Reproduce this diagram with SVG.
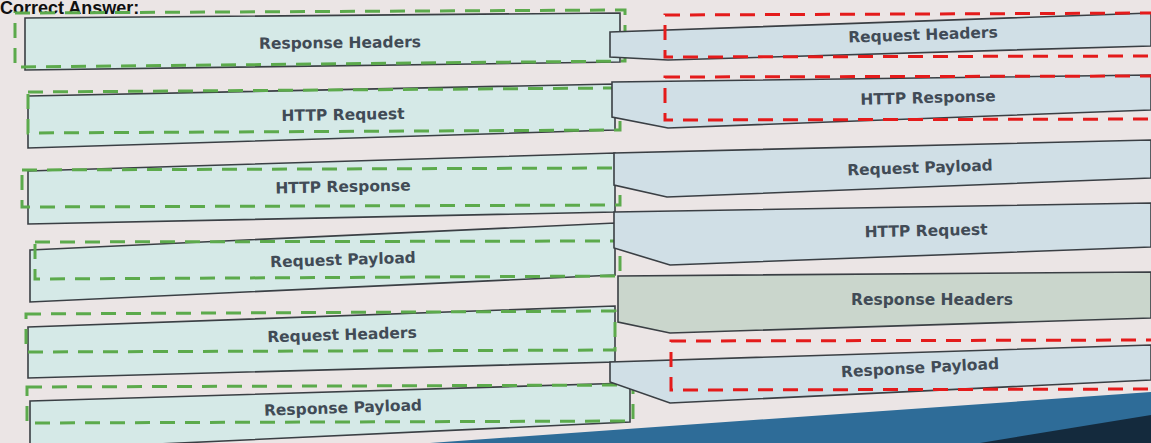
<svg xmlns="http://www.w3.org/2000/svg" width="1151" height="443" viewBox="0 0 1151 443">
<style>
.box{fill:#d5e9e7;stroke:#3a3f44;stroke-width:1.6}
.rbox{fill:#d0dfe6;stroke:#3a3f44;stroke-width:1.6}
.gd{fill:none;stroke:#5caa4c;stroke-width:3;stroke-dasharray:15 10}
.rd{fill:none;stroke:#e41b1b;stroke-width:3;stroke-dasharray:15 10}
.lbl{font-family:"DejaVu Sans",sans-serif;font-size:15.5px;font-weight:bold;fill:#414b56;text-anchor:middle}
.title{font-family:"Liberation Sans",Arial,sans-serif;font-size:18px;font-weight:bold;fill:#111}
</style>
<rect width="1151" height="443" fill="#ebe5e5"/>
<text class="title" x="0" y="14">Correct Answer:</text>
<g id="connectors"></g>
<g id="left-1">
<polygon class="box" points="25,18 620,13 620,62 25,70"/>
<polygon class="gd" points="15,13 625,10 625,61 15,67"/>
<text class="lbl" x="340" y="48" transform="rotate(-0.6 340 43)">Response Headers</text>
</g>
<g id="left-2">
<polygon class="box" points="28,96 615,84 615,130 28,148"/>
<polygon class="gd" points="28,92 620,88 620,130 28,133"/>
<text class="lbl" x="343" y="120" transform="rotate(-1 343 115)">HTTP Request</text>
</g>
<g id="left-3">
<polygon class="box" points="28,171 615,153 615,212 28,224"/>
<polygon class="gd" points="22,170 620,168 620,205 22,207"/>
<text class="lbl" x="343" y="192" transform="rotate(-1.2 343 187)">HTTP Response</text>
</g>
<g id="left-4">
<polygon class="box" points="30,250 615,223 615,275 30,302"/>
<polygon class="gd" points="35,242 620,241 620,276 35,279"/>
<text class="lbl" x="343" y="265" transform="rotate(-1.8 343 260)">Request Payload</text>
</g>
<g id="left-5">
<polygon class="box" points="28,327 615,306 615,362 28,378"/>
<polygon class="gd" points="26,314 615,311 615,350 26,352"/>
<text class="lbl" x="342" y="340" transform="rotate(-1.8 342 335)">Request Headers</text>
</g>
<g id="left-6">
<polygon class="box" points="30,401 630,383 630,422 30,450"/>
<polygon class="gd" points="27,387 633,385 633,421 27,423"/>
<text class="lbl" x="343" y="413" transform="rotate(-2 343 408)">Response Payload</text>
</g>
<g id="right-1">
<polygon class="rbox" points="610,32 1151,13 1151,46 668,60 610,57"/>
<polygon class="rd" points="665,15 1160,13 1160,56 665,57"/>
<text class="lbl" x="923" y="40" transform="rotate(-2 923 35)">Request Headers</text>
</g>
<g id="right-2">
<polygon class="rbox" points="612,82 1151,75 1151,110 668,128 612,117"/>
<polygon class="rd" points="665,77 1160,76 1160,119 665,120"/>
<text class="lbl" x="928" y="103" transform="rotate(-1.5 928 98)">HTTP Response</text>
</g>
<g id="right-3">
<polygon class="rbox" points="614,153 1151,140 1151,178 667,197 614,185"/>
<text class="lbl" x="920" y="173" transform="rotate(-2 920 168)">Request Payload</text>
</g>
<g id="right-4">
<polygon class="rbox" points="614,212 1151,203 1151,247 670,265 614,248"/>
<text class="lbl" x="926" y="236" transform="rotate(-1.2 926 231)">HTTP Request</text>
</g>
<g id="right-5">
<polygon class="rbox" style="fill:#cad6cc" points="618,276 1151,272 1151,318 670,333 618,322"/>
<text class="lbl" x="932" y="305">Response Headers</text>
</g>
<g id="right-6">
<polygon class="rbox" points="610,362 1151,345 1151,380 670,403 610,382"/>
<polygon class="rd" points="671,341 1160,340 1160,389 671,390"/>
<text class="lbl" x="920" y="373" transform="rotate(-3 920 368)">Response Payload</text>
</g>
<polygon points="430,443 1151,392 1151,443" fill="#2e6c98"/>
<polygon points="980,443 1151,415 1151,443" fill="#142a3d"/>
</svg>
